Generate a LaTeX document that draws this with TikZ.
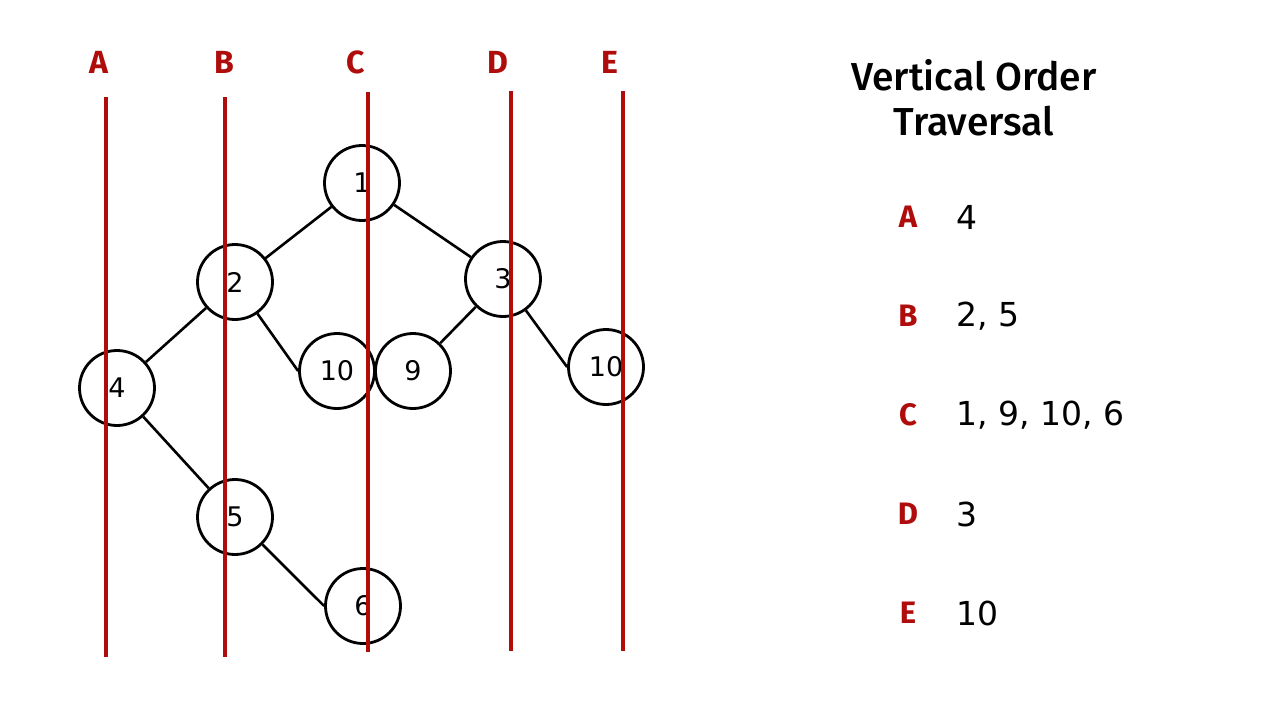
\documentclass[tikz,border=0pt]{standalone}
\usepackage{fontspec}
\setmainfont{DejaVu Sans}
\newfontfamily\titlefont{Fira Sans Medium}
\newfontfamily\labfont{Fira Sans Bold}
\definecolor{colred}{RGB}{175,12,12}
\begin{document}
\begin{tikzpicture}[x=1pt,y=-1pt,
  treenode/.style={circle,draw=black,line width=2.8pt,fill=white,minimum size=75pt,inner sep=0pt,font=\fontsize{27}{30}\selectfont},
  edge/.style={line width=2.6pt,black},
  colline/.style={line width=3.2pt,colred},
  collab/.style={font=\labfont\fontsize{32}{34}\selectfont,text=colred},
  panellab/.style={font=\labfont\fontsize{31}{34}\selectfont,text=colred},
  panelval/.style={font=\fontsize{33}{36}\selectfont,anchor=west}]
\useasboundingbox (0,0) rectangle (1280,720);
\fill[white] (0,0) rectangle (1280,720);
% tree nodes
\node[treenode] (n1) at (362,183) {1};
\node[treenode] (n2) at (235,282) {2};
\node[treenode] (n3) at (503,279) {3};
\node[treenode] (n4) at (117,388) {4};
\node[treenode] (n10a) at (337,371) {10};
\node[treenode] (n9) at (413,371) {9};
\node[treenode] (n10b) at (606,367) {10};
\node[treenode] (n5) at (235,517) {5};
\node[treenode] (n6) at (363,606) {6};
% edges
\draw[edge] (n1) -- (n2);
\draw[edge] (n1) -- (n3);
\draw[edge] (n2) -- (n4);
\draw[edge] (n2) -- (n10a.west);
\draw[edge] (n3) -- (n9);
\draw[edge] (n3) -- (n10b.west);
\draw[edge] (n4) -- (n5);
\draw[edge] (n5) -- (n6.west);
% column lines
\coordinate (At) at (106,97);  \coordinate (Ab) at (106,657);
\coordinate (Bt) at (225,97);  \coordinate (Bb) at (225,657);
\coordinate (Ct) at (368,92);  \coordinate (Cb) at (368,652);
\coordinate (Dt) at (511,91);  \coordinate (Db) at (511,651);
\coordinate (Et) at (623,91);  \coordinate (Eb) at (623,651);
\draw[colline] (At) -- (Ab);
\draw[colline] (Bt) -- (Bb);
\draw[colline] (Ct) -- (Cb);
\draw[colline] (Dt) -- (Db);
\draw[colline] (Et) -- (Eb);
\node[collab] (lA) at (99,62) {A};
\node[collab] (lB) at (224,62) {B};
\node[collab] (lC) at (356,62) {C};
\node[collab] (lD) at (498,62) {D};
\node[collab] (lE) at (610,62) {E};
% panel
\node[font=\titlefont\fontsize{39}{45}\selectfont,align=center] (title) at (974,98) {Vertical Order\\Traversal};
\node[panellab] (pA) at (908,217) {A};
\node[panellab] (pB) at (908,316) {B};
\node[panellab] (pC) at (908,415) {C};
\node[panellab] (pD) at (908,514) {D};
\node[panellab] (pE) at (908,613) {E};
\node[panelval] (vA) at (953,217) {4};
\node[panelval] (vB) at (953,316) {2, 5};
\node[panelval] (vC) at (953,415) {1, 9, 10, 6};
\node[panelval] (vD) at (953,514) {3};
\node[panelval] (vE) at (953,613) {10};
\end{tikzpicture}
\end{document}
